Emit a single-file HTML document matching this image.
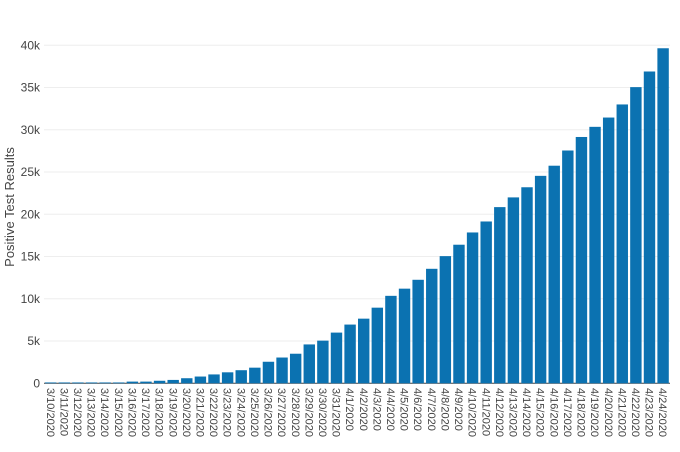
<!DOCTYPE html>
<html><head><meta charset="utf-8"><style>
body{margin:0;background:#fff;}
svg{display:block;font-family:"Liberation Sans",sans-serif;}
</style></head><body>
<svg id="chart" width="680" height="452" viewBox="0 0 680 452"></svg>
<script>
const categories = ["3/10/2020","3/11/2020","3/12/2020","3/13/2020","3/14/2020","3/15/2020","3/16/2020","3/17/2020","3/18/2020","3/19/2020","3/20/2020","3/21/2020","3/22/2020","3/23/2020","3/24/2020","3/25/2020","3/26/2020","3/27/2020","3/28/2020","3/29/2020","3/30/2020","3/31/2020","4/1/2020","4/2/2020","4/3/2020","4/4/2020","4/5/2020","4/6/2020","4/7/2020","4/8/2020","4/9/2020","4/10/2020","4/11/2020","4/12/2020","4/13/2020","4/14/2020","4/15/2020","4/16/2020","4/17/2020","4/18/2020","4/19/2020","4/20/2020","4/21/2020","4/22/2020","4/23/2020","4/24/2020"];
const positives = [100,100,100,100,100,100,200,200,300,400,600,800,1050,1300,1550,1850,2550,3050,3500,4600,5050,6000,6950,7650,8950,10350,11200,12250,13550,15050,16400,17850,19150,20850,22000,23200,24550,25750,27550,29150,30350,31450,33000,35050,36900,39650];
const yTicks = [0,5000,10000,15000,20000,25000,30000,35000,40000];
const yTickLabels = ["0","5k","10k","15k","20k","25k","30k","35k","40k"];

const NS="http://www.w3.org/2000/svg";
const svg=document.getElementById('chart');
const X0=44,X1=670,Y0=383.3,Y1=45.3,YMAX=40000;
const band=(X1-X0)/categories.length;
const xPos=i=>X0+i*band;
const yPos=v=>Y0-(v/YMAX)*(Y0-Y1);
function mk(t,a){const e=document.createElementNS(NS,t);for(const k in a)e.setAttribute(k,a[k]);svg.appendChild(e);return e;}

yTicks.forEach((t,i)=>{
  const g=mk('line',{x1:X0,x2:X1,y1:yPos(t),y2:yPos(t),stroke:i===0?'#444':'#eee','stroke-width':1});
  
  
  const tx=mk('text',{x:40,y:yPos(t)+4,'text-anchor':'end','font-size':12,fill:'#444'});
  tx.textContent=yTickLabels[i];
  
  
});

positives.forEach((v,i)=>{
  const r=mk('rect',{x:xPos(i)+1,y:yPos(v),width:band-2.2,height:Y0-yPos(v),fill:'#0b72b1'});
  
  
  const cx=xPos(i)+band/2-4;
  const tx=mk('text',{x:0,y:0,'font-size':11,fill:'#444',transform:`translate(${cx},388) rotate(90)`});
  tx.textContent=categories[i];
  
  
});

const yt=mk('text',{x:0,y:0,'font-size':13,fill:'#444','text-anchor':'middle',transform:'translate(14,207) rotate(-90)'});
yt.textContent='Positive Test Results';


</script>
</body></html>
